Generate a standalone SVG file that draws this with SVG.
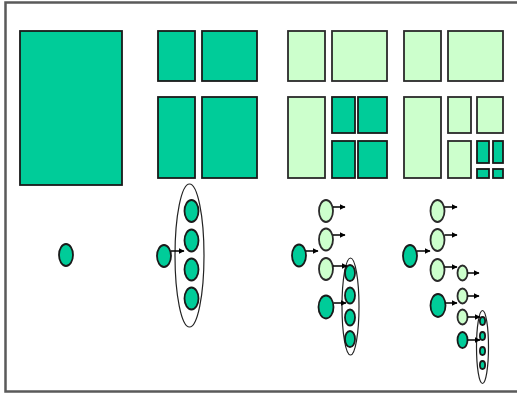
<svg xmlns="http://www.w3.org/2000/svg" width="517" height="394" viewBox="0 0 517 394">
<style>
.d{fill:#00CC99;stroke:#1a1a1a;stroke-width:1.8}
.l{fill:#CCFFCC;stroke:#2a2a2a;stroke-width:1.8}
.g{fill:none;stroke:#222;stroke-width:1.2}
.a{stroke:#000;stroke-width:1.5;fill:none;marker-end:url(#ah)}
</style>
<defs>
<marker id="ah" viewBox="0 0 10 10" refX="9" refY="5" markerWidth="6" markerHeight="6" orient="auto" markerUnits="userSpaceOnUse">
<path d="M0,0 L10,5 L0,10 z" fill="#000"/>
</marker>
</defs>
<rect id="frame" x="5.5" y="2.5" width="520" height="389" fill="#fff" stroke="#5a5a5a" stroke-width="2.5"/>
<g id="col1">
<rect class="d" x="20" y="31" width="102" height="154"/>
</g>
<g id="col2">
<rect class="d" x="158" y="31" width="37" height="50"/>
<rect class="d" x="202" y="31" width="55" height="50"/>
<rect class="d" x="158" y="97" width="37" height="81"/>
<rect class="d" x="202" y="97" width="55" height="81"/>
</g>
<g id="col3">
<rect class="l" x="288" y="31" width="37" height="50"/>
<rect class="l" x="332" y="31" width="55" height="50"/>
<rect class="l" x="288" y="97" width="37" height="81"/>
<rect class="d" x="332" y="97" width="23" height="36"/>
<rect class="d" x="358" y="97" width="29" height="36"/>
<rect class="d" x="332" y="141" width="23" height="37"/>
<rect class="d" x="358" y="141" width="29" height="37"/>
</g>
<g id="col4">
<rect class="l" x="404" y="31" width="37" height="50"/>
<rect class="l" x="448" y="31" width="55" height="50"/>
<rect class="l" x="404" y="97" width="37" height="81"/>
<rect class="l" x="448" y="97" width="23" height="36"/>
<rect class="l" x="477" y="97" width="26" height="36"/>
<rect class="l" x="448" y="141" width="23" height="37"/>
<rect class="d" x="477" y="141" width="12" height="22"/>
<rect class="d" x="493" y="141" width="10" height="22"/>
<rect class="d" x="477" y="169" width="12" height="9"/>
<rect class="d" x="493" y="169" width="10" height="9"/>
</g>
<g id="tree1">
<ellipse class="d" cx="66" cy="255" rx="7" ry="11"/>
</g>
<g id="tree2">
<ellipse class="d" cx="164" cy="256" rx="7" ry="11"/>
<ellipse class="g" cx="189.5" cy="255.5" rx="14.5" ry="71.5"/>
<ellipse class="d" cx="191.5" cy="211" rx="7" ry="11"/>
<ellipse class="d" cx="191.5" cy="240.5" rx="7" ry="11"/>
<ellipse class="d" cx="191.5" cy="269.5" rx="7" ry="11"/>
<ellipse class="d" cx="191.5" cy="298.5" rx="7" ry="11"/>
</g>
<g id="tree3">
<ellipse class="d" cx="299" cy="255.5" rx="7" ry="11"/>
<ellipse class="l" cx="326" cy="211" rx="7" ry="11"/>
<ellipse class="l" cx="326" cy="239.5" rx="7" ry="11"/>
<ellipse class="l" cx="326" cy="269" rx="7" ry="11"/>
<ellipse class="d" cx="326" cy="307" rx="7.5" ry="11.5"/>
<ellipse class="g" cx="350.5" cy="306.5" rx="8.5" ry="48.5"/>
<ellipse class="d" cx="350" cy="273" rx="5" ry="8"/>
<ellipse class="d" cx="350" cy="295.5" rx="5" ry="8"/>
<ellipse class="d" cx="350" cy="317.5" rx="5" ry="8"/>
<ellipse class="d" cx="350" cy="339" rx="5" ry="8"/>
</g>
<g id="tree4">
<ellipse class="d" cx="410" cy="256" rx="7" ry="11"/>
<ellipse class="l" cx="437.5" cy="211" rx="7" ry="11"/>
<ellipse class="l" cx="437.5" cy="240" rx="7" ry="11"/>
<ellipse class="l" cx="437.5" cy="270" rx="7" ry="11"/>
<ellipse class="d" cx="438" cy="305.5" rx="7.5" ry="11.5"/>
<ellipse class="l" cx="462.5" cy="273" rx="5" ry="7.5"/>
<ellipse class="l" cx="462.5" cy="296" rx="5" ry="7.5"/>
<ellipse class="l" cx="462.5" cy="317" rx="5" ry="7.5"/>
<ellipse class="d" cx="462.5" cy="340" rx="5" ry="8"/>
<ellipse class="g" cx="482.5" cy="347" rx="6" ry="36.5"/>
<ellipse class="d" cx="482.5" cy="321" rx="2.6" ry="4"/>
<ellipse class="d" cx="482.5" cy="336" rx="2.6" ry="4"/>
<ellipse class="d" cx="482.5" cy="351" rx="2.6" ry="4"/>
<ellipse class="d" cx="482.5" cy="365" rx="2.6" ry="4"/>
</g>
<g id="connectors">
<line class="a" x1="171" y1="251" x2="184" y2="251"/>
<line class="a" x1="306" y1="251" x2="318" y2="251"/>
<line class="a" x1="333" y1="207" x2="345" y2="207"/>
<line class="a" x1="333" y1="235" x2="345" y2="235"/>
<line class="a" x1="333" y1="266" x2="347" y2="266"/>
<line class="a" x1="333.5" y1="303" x2="346" y2="303"/>
<line class="a" x1="417" y1="251" x2="430" y2="251"/>
<line class="a" x1="444.5" y1="207" x2="457" y2="207"/>
<line class="a" x1="444.5" y1="235" x2="457" y2="235"/>
<line class="a" x1="444.5" y1="267" x2="457" y2="267"/>
<line class="a" x1="445.5" y1="303" x2="457" y2="303"/>
<line class="a" x1="467.5" y1="273" x2="479" y2="273"/>
<line class="a" x1="467.5" y1="296" x2="479" y2="296"/>
<line class="a" x1="467.5" y1="317" x2="480" y2="317"/>
<line class="a" x1="467.5" y1="340" x2="480" y2="340"/>
</g>
</svg>
